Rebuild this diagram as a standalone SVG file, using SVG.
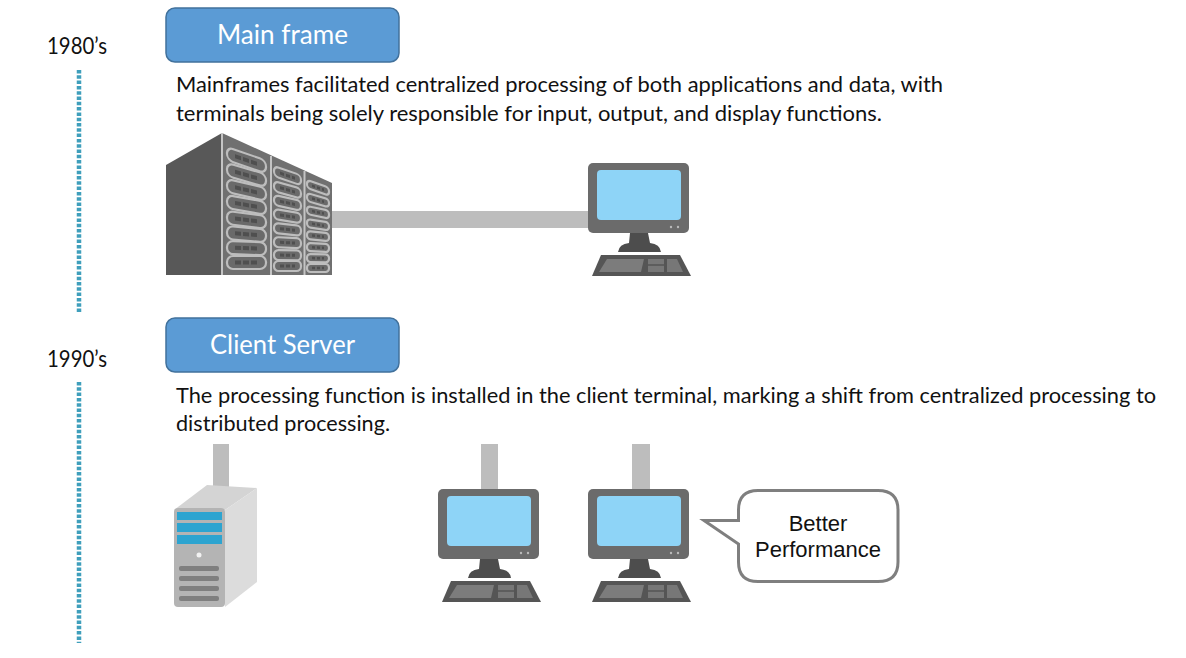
<svg xmlns="http://www.w3.org/2000/svg" width="1186" height="658" viewBox="0 0 1186 658">
<style>
.t{font-family:Lato,"Open Sans",sans-serif;font-size:21.5px;fill:#111}
.y{font-family:Lato,"Open Sans",sans-serif;font-size:22.5px;fill:#111}
.h{font-family:Lato,"Open Sans",sans-serif;font-size:26px;fill:#fff}
.b{font-family:"Liberation Sans",Arial,sans-serif;font-size:22px;fill:#111;text-anchor:middle}
.box{fill:#5b9bd5;stroke:#41719c;stroke-width:1.5}
.tl{fill:none;stroke:#3f9fbc;stroke-width:4.500;stroke-dasharray:3.500 1.800}
.cable{fill:#bdbdbd}
.r{fill:#6a6a6a;stroke:#bdbdbd;stroke-width:2.200}
</style>
<defs>
<g id="pc">
<rect x="0" y="0" width="101" height="70" rx="5" fill="#6b6b6b"/>
<rect x="9" y="7" width="84" height="50" rx="4" fill="#8ed4f7"/>
<circle cx="83" cy="64" r="1.200" fill="#bbb"/><circle cx="90" cy="64" r="1.200" fill="#bbb"/>
<path d="M42 70H60L62 80Q72 81 73 89H30Q31 81 41 80Z" fill="#4d4d4d"/>
<path d="M13 92H92L103 113H4Z" fill="#555"/>
<path d="M19 96H56L53 109H11Z" fill="#7c7c7c"/>
<path d="M60 96H76V109H60ZM79 96H89L95 109H79Z" fill="#777"/>
<path d="M60 102H76" stroke="#555" stroke-width="1.500"/>
</g>
<g id="rack1"><rect x="0" y="0" width="39" height="13" rx="6" class="r"/><path d="M8 6.500H32" stroke="#4f4f4f" stroke-width="4" stroke-dasharray="6 2"/></g>
<g id="rack2"><rect x="0" y="0" width="27" height="10" rx="4.500" class="r"/><path d="M6 5H21" stroke="#4f4f4f" stroke-width="3" stroke-dasharray="4 2"/></g>
<g id="rack3"><rect x="0" y="0" width="22" height="8" rx="3.500" class="r"/><path d="M5 4H17" stroke="#4f4f4f" stroke-width="2.500" stroke-dasharray="3 2"/></g>
</defs>
<g id="connectors">
<rect class="cable" x="332" y="211" width="257" height="17"/>
<rect class="cable" x="213" y="444" width="16" height="46"/>
<rect class="cable" x="481" y="444" width="17" height="46"/>
<rect class="cable" x="632" y="444" width="18" height="46"/>
</g>
<g id="timeline-1980"><text class="y" x="47" y="54" textLength="60" lengthAdjust="spacingAndGlyphs">1980’s</text><path class="tl" d="M79 70V313"/></g>
<g id="timeline-1990"><text class="y" x="47" y="367" textLength="60" lengthAdjust="spacingAndGlyphs">1990’s</text><path class="tl" d="M79 382V643"/></g>
<g id="main-frame-label"><rect class="box" x="166" y="8" width="233" height="54" rx="9"/><text class="h" x="217" y="44" textLength="131" lengthAdjust="spacingAndGlyphs">Main frame</text></g>
<g id="main-frame-text">
<text class="t" x="176" y="92" textLength="767" lengthAdjust="spacingAndGlyphs">Mainframes facilitated centralized processing of both applications and data, with</text>
<text class="t" x="176" y="121" textLength="706" lengthAdjust="spacingAndGlyphs">terminals being solely responsible for input, output, and display functions.</text>
</g>
<g id="mainframe">
<path d="M166 165L222 133V275H166Z" fill="#585858"/>
<path d="M222 133L332 183V275H222Z" fill="#707070"/>
<path d="M222 133V275M271 156V275M304.500 171V275" stroke="#c4c4c4" stroke-width="2"/>
<use href="#rack1" transform="translate(227 147) skewY(19)"/><use href="#rack1" transform="translate(227 163) skewY(16)"/><use href="#rack1" transform="translate(227 179) skewY(13)"/><use href="#rack1" transform="translate(227 195) skewY(10)"/><use href="#rack1" transform="translate(227 211) skewY(7)"/><use href="#rack1" transform="translate(227 226) skewY(5)"/><use href="#rack1" transform="translate(227 241) skewY(2)"/><use href="#rack1" transform="translate(227 256)"/>
<use href="#rack2" transform="translate(274 166) skewY(19)"/><use href="#rack2" transform="translate(274 181) skewY(16)"/><use href="#rack2" transform="translate(274 195) skewY(12)"/><use href="#rack2" transform="translate(274 209) skewY(9)"/><use href="#rack2" transform="translate(274 223) skewY(6)"/><use href="#rack2" transform="translate(274 237) skewY(3)"/><use href="#rack2" transform="translate(274 250) skewY(1)"/><use href="#rack2" transform="translate(274 261)"/>
<use href="#rack3" transform="translate(307 180) skewY(19)"/><use href="#rack3" transform="translate(307 193) skewY(16)"/><use href="#rack3" transform="translate(307 206) skewY(12)"/><use href="#rack3" transform="translate(307 219) skewY(9)"/><use href="#rack3" transform="translate(307 231) skewY(6)"/><use href="#rack3" transform="translate(307 243) skewY(3)"/><use href="#rack3" transform="translate(307 254) skewY(1)"/><use href="#rack3" transform="translate(307 264)"/>
</g>
<g id="terminal-1"><use href="#pc" x="588" y="163"/></g>
<g id="client-server-label"><rect class="box" x="166" y="318" width="233" height="54" rx="9"/><text class="h" x="210" y="354" textLength="145" lengthAdjust="spacingAndGlyphs">Client Server</text></g>
<g id="client-server-text">
<text class="t" x="176" y="403" textLength="980" lengthAdjust="spacingAndGlyphs">The processing function is installed in the client terminal, marking a shift from centralized processing to</text>
<text class="t" x="176" y="431" textLength="214" lengthAdjust="spacingAndGlyphs">distributed processing.</text>
</g>
<g id="server">
<path d="M174 510L207 485L257 488L225 510Z" fill="#d4d4d4"/>
<path d="M225 510L257 488V582L225 607Z" fill="#dcdcdc"/>
<rect x="174" y="508" width="51" height="99" rx="4" fill="#b4b4b4"/>
<rect x="177" y="512" width="45" height="8" fill="#2da4d0"/><rect x="177" y="523" width="45" height="9" fill="#2da4d0"/><rect x="177" y="535" width="45" height="9" fill="#2da4d0"/>
<circle cx="199" cy="555" r="2.500" fill="#f2f2f2"/>
<g fill="#7f7f7f"><rect x="179" y="566" width="40" height="5" rx="2"/><rect x="179" y="576" width="40" height="5" rx="2"/><rect x="179" y="586" width="40" height="5" rx="2"/><rect x="179" y="596" width="40" height="5" rx="2"/></g>
</g>
<g id="client-1"><use href="#pc" x="438" y="489"/></g>
<g id="client-2"><use href="#pc" x="588" y="489"/></g>
<g id="callout">
<path d="M758 490.500H878Q898 490.500 898 510V562Q898 581.500 878 581.500H758Q738.500 581.500 738.500 562V544L704 520.500H738.500V510Q738.500 490.500 758 490.500Z" fill="#fff" stroke="#7f7f7f" stroke-width="3"/>
<text class="b" x="818" y="531">Better</text><text class="b" x="818" y="557">Performance</text>
</g>
</svg>
